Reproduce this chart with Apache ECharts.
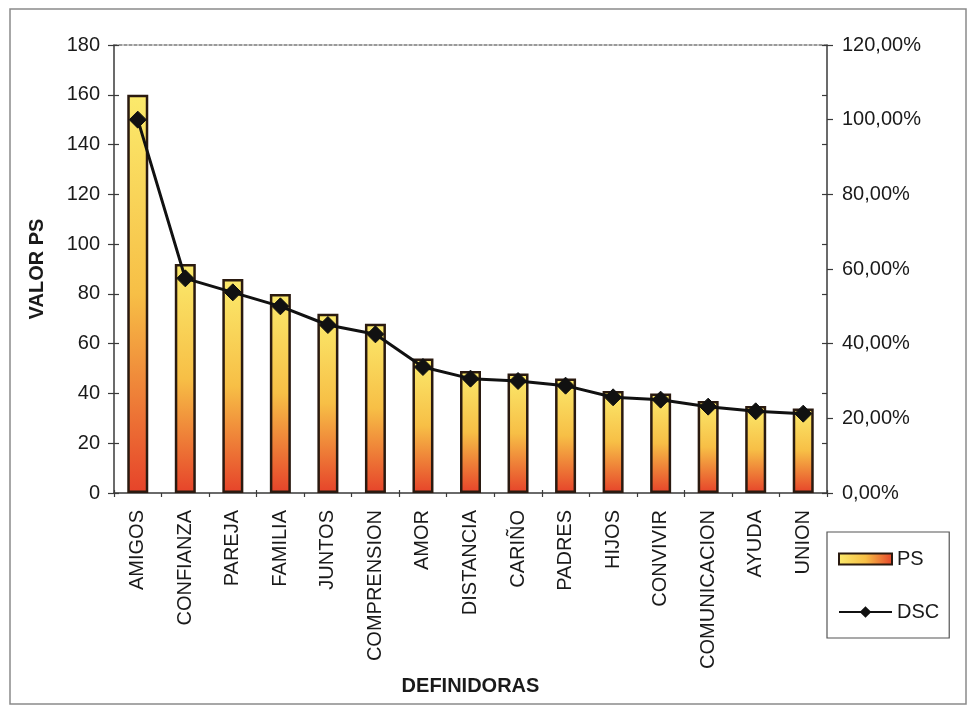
<!DOCTYPE html>
<html>
<head>
<meta charset="utf-8">
<script src="https://cdn.jsdelivr.net/npm/echarts@6/dist/echarts.min.js"></script>
<style>
  html, body { margin: 0; padding: 0; background: #ffffff; }
  #chart { width: 972px; height: 711px; }
</style>
</head>
<body>
<div id="chart"></div>
<script>
// Definidoras ordered by PS value
const categories = ['AMIGOS', 'CONFIANZA', 'PAREJA', 'FAMILIA', 'JUNTOS', 'COMPRENSION', 'AMOR',
  'DISTANCIA', 'CARIÑO', 'PADRES', 'HIJOS', 'CONVIVIR', 'COMUNICACION', 'AYUDA', 'UNION'];
// PS value of each definidora (left axis)
const psValues = [160, 92, 86, 80, 72, 68, 54, 49, 48, 46, 41, 40, 37, 35, 34];
// DSC, in percent (right axis)
const dscValues = [100, 57.5, 53.75, 50, 45, 42.5, 33.75, 30.63, 30, 28.75, 25.63, 25, 23.13, 21.88, 21.25];
// Axis tick values
const psTicks = [0, 20, 40, 60, 80, 100, 120, 140, 160, 180];
const dscTicks = [0, 20, 40, 60, 80, 100, 120];

const FONT = '"Liberation Sans", Arial, sans-serif';
const TEXT = '#1a1a1a';
const AXIS = '#3a3a3a';

const chart = echarts.init(document.getElementById('chart'), null, { renderer: 'canvas' });

const barFill = new echarts.graphic.LinearGradient(0, 0, 0, 1, [
  { offset: 0, color: '#fbea6c' },
  { offset: 0.5, color: '#f7bf46' },
  { offset: 1, color: '#e6432a' }
]);
const legendFill = new echarts.graphic.LinearGradient(0, 0, 1, 0, [
  { offset: 0, color: '#fbea6c' },
  { offset: 0.5, color: '#f7bf46' },
  { offset: 1, color: '#e6432a' }
]);

const psMax = psTicks[psTicks.length - 1];
const psStep = psTicks[1] - psTicks[0];
const dscMax = dscTicks[dscTicks.length - 1];
const dscStep = dscTicks[1] - dscTicks[0];

// Extra axis that only adds the inner half of each tick, giving cross-shaped ticks
const tickOnly = (pos, len) => ({
  type: 'value', position: pos, min: 0, max: psMax, interval: psStep,
  axisLine: { show: false }, axisLabel: { show: false }, splitLine: { show: false },
  axisTick: { show: true, inside: true, length: len, lineStyle: { color: AXIS, width: 1.2 } }
});

chart.setOption({
  backgroundColor: '#ffffff',
  animation: false,
  textStyle: { fontFamily: FONT },
  graphic: [{
    type: 'rect', silent: true,
    shape: { x: 10, y: 9, width: 956, height: 695 },
    style: { fill: null, stroke: '#8a8a8a', lineWidth: 1.5 }
  }],
  grid: { left: 114, right: 145, top: 45, bottom: 218, containLabel: false },
  legend: {
    orient: 'vertical',
    left: 827, top: 532,
    padding: [17, 10, 16, 11],
    itemGap: 33,
    itemWidth: 53, itemHeight: 11,
    borderColor: '#555', borderWidth: 1.2, backgroundColor: '#fff',
    textStyle: { fontSize: 20, color: TEXT, fontFamily: FONT },
    data: [
      { name: 'PS', icon: 'rect', itemStyle: { color: legendFill, borderColor: '#2a1a10', borderWidth: 2 } },
      { name: 'DSC' }
    ]
  },
  xAxis: [{
    type: 'category', data: categories, position: 'bottom',
    name: 'DEFINIDORAS', nameLocation: 'middle', nameGap: 183,
    nameTextStyle: { fontSize: 20, fontWeight: 'bold', color: TEXT, fontFamily: FONT },
    axisLine: { lineStyle: { color: AXIS, width: 1.5 } },
    axisTick: { show: true, length: 4, alignWithLabel: false, lineStyle: { color: AXIS, width: 1.2 } },
    axisLabel: { rotate: 90, fontSize: 20, color: TEXT, margin: 17, fontFamily: FONT, interval: 0 },
    splitLine: { show: false }
  }, {
    type: 'category', data: categories, position: 'top',
    axisLine: { show: true, onZero: false, lineStyle: { color: '#7a7a7a', width: 1.5, type: [3, 2] } },
    axisTick: { show: false }, axisLabel: { show: false }, splitLine: { show: false }
  }, {
    type: 'category', data: categories, position: 'bottom',
    axisLine: { show: false, onZero: false }, axisLabel: { show: false }, splitLine: { show: false },
    axisTick: { show: true, inside: true, length: 3, lineStyle: { color: AXIS, width: 1.2 } }
  }],
  yAxis: [{
    type: 'value', position: 'left', min: 0, max: psMax, interval: psStep,
    name: 'VALOR PS', nameLocation: 'middle', nameRotate: 90, nameGap: 67,
    nameTextStyle: { fontSize: 20, fontWeight: 'bold', color: TEXT, fontFamily: FONT },
    axisLine: { show: true, lineStyle: { color: AXIS, width: 1.5 } },
    axisTick: { show: true, length: 6, lineStyle: { color: AXIS, width: 1.2 } },
    axisLabel: { fontSize: 20, color: TEXT, margin: 14, fontFamily: FONT },
    splitLine: { show: false }
  }, {
    type: 'value', position: 'right', min: 0, max: dscMax, interval: dscStep,
    axisLine: { show: true, lineStyle: { color: AXIS, width: 1.5 } },
    axisTick: { show: true, length: 6, lineStyle: { color: AXIS, width: 1.2 } },
    axisLabel: {
      fontSize: 20, color: TEXT, margin: 15, fontFamily: FONT,
      formatter: v => v.toFixed(2).replace('.', ',') + '%'
    },
    splitLine: { show: false }
  }, tickOnly('left', 5), tickOnly('right', 5)],
  series: [{
    name: 'PS', type: 'bar', data: psValues, xAxisIndex: 0, yAxisIndex: 0,
    barWidth: 21,
    itemStyle: { color: barFill, borderColor: '#2a1a10', borderWidth: 2.5 }
  }, {
    name: 'DSC', type: 'line', data: dscValues, xAxisIndex: 0, yAxisIndex: 1,
    symbol: 'diamond', symbolSize: 17,
    lineStyle: { color: '#111', width: 3 },
    itemStyle: { color: '#111', borderColor: '#111', borderWidth: 1 },
    z: 3
  }]
});
</script>
</body>
</html>
